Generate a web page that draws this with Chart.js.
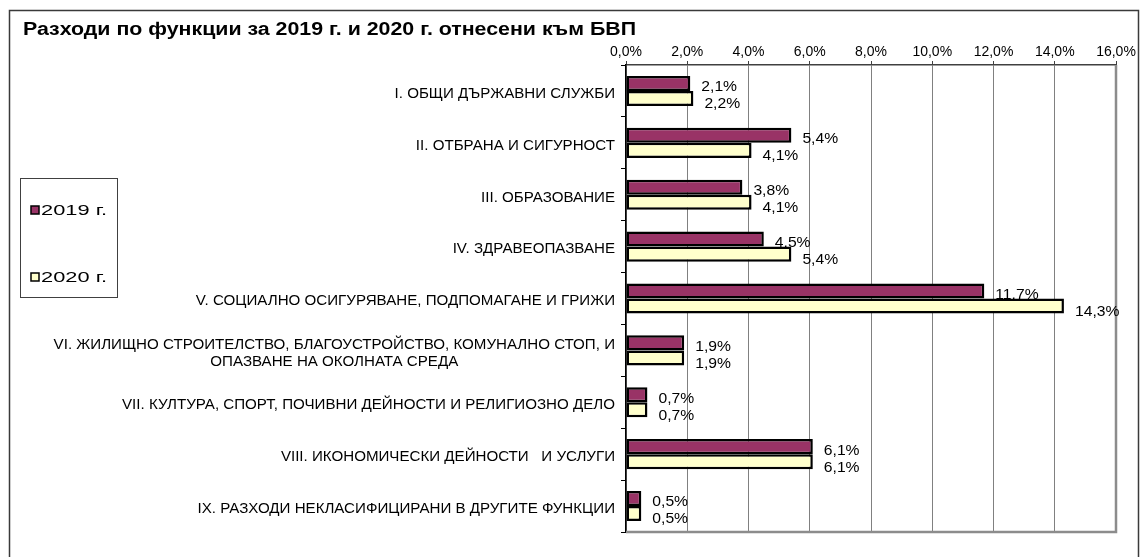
<!DOCTYPE html>
<html>
<head>
<meta charset="utf-8">
<script src="https://cdn.jsdelivr.net/npm/chart.js@4"></script>
<style>
html,body{margin:0;padding:0;background:#fff;}
#wrap{position:absolute;left:0;top:0;width:1147px;height:557px;}
</style>
</head>
<body>
<div id="wrap"><canvas id="c" width="1147" height="557"></canvas></div>
<script>
const titleText = 'Разходи по функции за 2019 г. и 2020 г. отнесени към БВП';
const categories = [
  ['I. ОБЩИ ДЪРЖАВНИ СЛУЖБИ'],
  ['II. ОТБРАНА И СИГУРНОСТ'],
  ['III. ОБРАЗОВАНИЕ'],
  ['IV. ЗДРАВЕОПАЗВАНЕ'],
  ['V. СОЦИАЛНО ОСИГУРЯВАНЕ, ПОДПОМАГАНЕ И ГРИЖИ'],
  ['VI. ЖИЛИЩНО СТРОИТЕЛСТВО, БЛАГОУСТРОЙСТВО, КОМУНАЛНО СТОП, И', 'ОПАЗВАНЕ НА ОКОЛНАТА СРЕДА'],
  ['VII. КУЛТУРА, СПОРТ, ПОЧИВНИ ДЕЙНОСТИ И РЕЛИГИОЗНО ДЕЛО'],
  ['VIII. ИКОНОМИЧЕСКИ ДЕЙНОСТИ   И УСЛУГИ'],
  ['IX. РАЗХОДИ НЕКЛАСИФИЦИРАНИ В ДРУГИТЕ ФУНКЦИИ']
];
const seriesNames = ['2019 г.', '2020 г.'];
const values2019 = [2.1, 5.4, 3.8, 4.5, 11.7, 1.9, 0.7, 6.1, 0.5];
const values2020 = [2.2, 4.1, 4.1, 5.4, 14.3, 1.9, 0.7, 6.1, 0.5];
const xTicks = [0, 2, 4, 6, 8, 10, 12, 14, 16];

const fmt = v => v.toFixed(1).replace('.', ',') + '%';
const FONT = '"Liberation Sans", Arial, sans-serif';
const colors = ['#993366', '#FFFFCC'];

function stretchText(ctx, text, x, y, sx, align) {
  ctx.save();
  ctx.translate(x, y);
  ctx.scale(sx, 1);
  ctx.textAlign = align || 'left';
  ctx.fillText(text, 0, 0);
  ctx.restore();
}

const decor = {
  id: 'decor',
  beforeDraw(chart) {
    const ctx = chart.ctx;
    ctx.save();
    ctx.fillStyle = '#fff';
    ctx.fillRect(0, 0, chart.width, chart.height);
    ctx.strokeStyle = '#3a3a3a';
    ctx.lineWidth = 1.5;
    ctx.beginPath();
    ctx.moveTo(9.5, 570); ctx.lineTo(9.5, 10.5); ctx.lineTo(1138.5, 10.5); ctx.lineTo(1138.5, 570);
    ctx.stroke();
    ctx.fillStyle = '#000';
    ctx.font = 'bold 18px ' + FONT;
    ctx.textBaseline = 'alphabetic';
    const tw = ctx.measureText(titleText).width;
    stretchText(ctx, titleText, 23, 35, 613 / tw, 'left');
    ctx.strokeStyle = '#404040';
    ctx.lineWidth = 1;
    ctx.strokeRect(20.5, 178.5, 97, 119);
    const ly = [210, 277];
    ctx.font = '15px ' + FONT;
    for (let i = 0; i < 2; i++) {
      ctx.fillStyle = colors[i];
      ctx.fillRect(31, ly[i] - 4, 8, 8);
      ctx.strokeStyle = '#000';
      ctx.lineWidth = 1.5;
      ctx.strokeRect(31, ly[i] - 4, 8, 8);
      ctx.fillStyle = '#000';
      ctx.textBaseline = 'middle';
      const w = ctx.measureText(seriesNames[i]).width;
      stretchText(ctx, seriesNames[i], 41, ly[i] + 1, 66 / w, 'left');
    }
    ctx.restore();
  },
  beforeDatasetsDraw(chart) {
    const ctx = chart.ctx, a = chart.chartArea;
    ctx.save();
    ctx.strokeStyle = '#8c8c8c';
    ctx.lineWidth = 2.5;
    ctx.beginPath();
    ctx.moveTo(a.left, a.bottom); ctx.lineTo(a.right, a.bottom); ctx.lineTo(a.right, a.top);
    ctx.stroke();
    ctx.restore();
  },
  afterDatasetsDraw(chart) {
    const ctx = chart.ctx;
    ctx.save();
    ctx.fillStyle = '#000';
    ctx.font = '14px ' + FONT;
    ctx.textBaseline = 'middle';
    chart.data.datasets.forEach((ds, di) => {
      const meta = chart.getDatasetMeta(di);
      meta.data.forEach((el, i) => {
        stretchText(ctx, fmt(ds.data[i]), el.x + 11, el.y + (di === 0 ? 4 : 6), 1.12, 'left');
      });
    });
    const ys = chart.scales.y;
    ctx.font = '14px ' + FONT;
    const sx = 1.08;
    categories.forEach((lines, i) => {
      const cy = ys.getPixelForValue(i) + 3;
      const widths = lines.map(l => ctx.measureText(l).width * sx);
      const maxW = Math.max(...widths);
      const right = 615;
      const center = right - maxW / 2;
      const lh = 17;
      const y0 = cy - (lines.length - 1) * lh / 2;
      lines.forEach((l, k) => stretchText(ctx, l, center, y0 + k * lh, sx, 'center'));
    });
    ctx.restore();
  }
};

new Chart(document.getElementById('c'), {
  type: 'bar',
  data: {
    labels: categories,
    datasets: [
      { label: seriesNames[0], data: values2019, backgroundColor: colors[0], borderColor: '#000', borderWidth: 2.5, borderSkipped: false },
      { label: seriesNames[1], data: values2020, backgroundColor: colors[1], borderColor: '#000', borderWidth: 2.5, borderSkipped: false }
    ]
  },
  options: {
    indexAxis: 'y',
    responsive: false,
    animation: false,
    devicePixelRatio: 1,
    categoryPercentage: 0.58,
    barPercentage: 1.0,
    layout: { padding: { left: 0, top: 0, right: 31, bottom: 25 } },
    plugins: { legend: { display: false }, title: { display: false }, tooltip: { enabled: false } },
    scales: {
      x: {
        position: 'top',
        min: 0, max: 16,
        afterBuildTicks(s) { s.ticks = xTicks.map(v => ({ value: v })); },
        afterFit(s) { s.height = 65; },
        ticks: { callback: v => fmt(v), color: '#000', font: { family: FONT, size: 14 }, padding: 0, maxRotation: 0 },
        grid: { color: '#808080', lineWidth: 1, tickLength: 4, tickColor: '#404040' },
        border: { display: true, color: '#404040', width: 1.5 }
      },
      y: {
        afterFit(s) { s.width = 626; },
        ticks: { color: 'rgba(0,0,0,0)', font: { family: FONT, size: 12 } },
        grid: { display: true, drawOnChartArea: false, offset: true, tickLength: 5, color: '#000', lineWidth: 1 },
        border: { display: true, color: '#000', width: 1.5 }
      }
    }
  },
  plugins: [decor]
});
</script>
</body>
</html>
